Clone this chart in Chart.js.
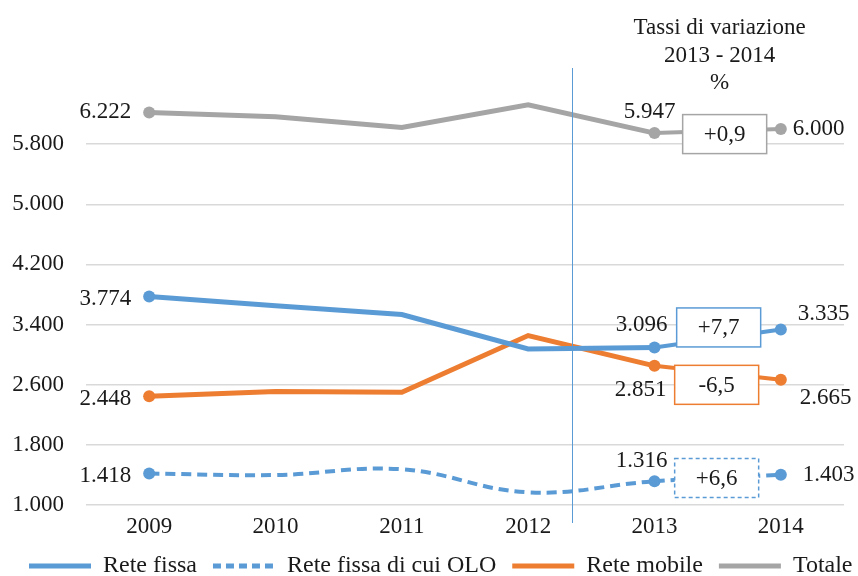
<!DOCTYPE html>
<html><head><meta charset="utf-8">
<script src="https://cdn.jsdelivr.net/npm/chart.js@4"></script>
<style>html,body{margin:0;padding:0;background:#fff}#wrap{width:858px;height:576px}</style>
</head><body><div id="wrap"><canvas id="c" width="858" height="576"></canvas></div>
<script>
// ---- data ----
const years = ['2009', '2010', '2011', '2012', '2013', '2014'];
const reteFissa = [3774, 3650, 3533, 3076, 3096, 3335];
const reteFissaOLO = [1418, 1399, 1475, 1169, 1316, 1403];
const reteMobile = [2448, 2511, 2499, 3254, 2851, 2665];
const totale = [6222, 6163, 6021, 6323, 5947, 6000];
const yTicks = [1000, 1800, 2600, 3400, 4200, 5000, 5800];
const seriesNames = ['Rete fissa', 'Rete fissa di cui OLO', 'Rete mobile', 'Totale'];
const panelTitle = ['Tassi di variazione', '2013 - 2014', '%'];
const labeledPoints = [0, 4, 5];
const rateFrom = 4, rateTo = 5;

// ---- styles ----
const FONT = 'Liberation Serif';
const TXT = '#1a1a1a';
const BLUE = '#5B9BD5', ORANGE = '#ED7D31', GRAY = '#A5A5A5';
// per-dataset label offsets [dx, dy, align] for labeled points, and rate box offsets
const labelPos = [
  [[-18, 2, 'right'], [-13, -22, 'center'], [17, -16, 'left']],
  [[-18, 2, 'right'], [-13, -20, 'center'], [22, 0, 'left']],
  [[-18, 3, 'right'], [-14, 24, 'center'], [19, 18, 'left']],
  [[-18, 0, 'right'], [-5, -21, 'center'], [12, 0, 'left']]
];
const boxOff = [[1, -11, false], [-1, 0, true], [-1, 12, false], [7, 3, false]];

function fmt(v) { return Math.round(v).toString().replace(/\B(?=(\d{3})+(?!\d))/g, '.'); }
function fmtRate(a, b) {
  const r = (b - a) / a * 100;
  return (r >= 0 ? '+' : '-') + Math.abs(r).toFixed(1).replace('.', ',');
}

const radiusFn = ctx => labeledPoints.includes(ctx.dataIndex) ? 6 : 0;
const segW = ctx => ctx.p0DataIndex === rateFrom ? 4 : undefined;

function ds(label, data, color, extra) {
  return Object.assign({
    label, data, borderColor: color, backgroundColor: color,
    borderWidth: 5, pointRadius: radiusFn, pointHoverRadius: radiusFn,
    pointBorderWidth: 0, pointBackgroundColor: color, tension: 0,
    borderCapStyle: 'butt', borderJoinStyle: 'miter',
    segment: { borderWidth: segW }
  }, extra || {});
}

const overlay = {
  id: 'overlay',
  afterLayout(chart) {
    if (chart.legend) { chart.legend.left += 13; chart.legend.right += 13; }
  },
  afterDatasetsDraw(chart) {
    const ctx = chart.ctx, xs = chart.scales.x, area = chart.chartArea;
    ctx.save();
    // vertical separator
    const vx = Math.round(xs.getPixelForValue(3.35)) + 0.5;
    ctx.strokeStyle = BLUE; ctx.lineWidth = 1;
    ctx.beginPath(); ctx.moveTo(vx, area.top - 16); ctx.lineTo(vx, area.bottom + 18); ctx.stroke();

    ctx.font = '23px "' + FONT + '"';
    ctx.textBaseline = 'middle';
    chart.data.datasets.forEach((d, i) => {
      const meta = chart.getDatasetMeta(i);
      // rate box
      const p0 = meta.data[rateFrom], p1 = meta.data[rateTo];
      const cx = (p0.x + p1.x) / 2 + boxOff[i][0], cy = (p0.y + p1.y) / 2 + boxOff[i][1];
      const w = 84, h = 39;
      ctx.fillStyle = '#fff';
      ctx.fillRect(cx - w / 2, cy - h / 2, w, h);
      ctx.strokeStyle = d.borderColor; ctx.lineWidth = 1.5;
      ctx.setLineDash(boxOff[i][2] ? [4, 3] : []);
      ctx.strokeRect(cx - w / 2, cy - h / 2, w, h);
      ctx.setLineDash([]);
      ctx.fillStyle = TXT; ctx.textAlign = 'center';
      ctx.fillText(fmtRate(d.data[rateFrom], d.data[rateTo]), cx, cy + 1);
      // value labels
      labeledPoints.forEach((idx, k) => {
        const p = meta.data[idx], lp = labelPos[i][k];
        ctx.textAlign = lp[2];
        ctx.fillText(fmt(d.data[idx]), p.x + lp[0], p.y + lp[1]);
      });
    });
    // panel title
    const tx = (xs.getPixelForValue(rateFrom) + xs.getPixelForValue(rateTo)) / 2 + 2;
    ctx.textAlign = 'center';
    panelTitle.forEach((t, k) => ctx.fillText(t, tx, 28 + k * 27.5));
    ctx.restore();
  }
};

new Chart(document.getElementById('c'), {
  type: 'line',
  data: {
    labels: years,
    datasets: [
      ds(seriesNames[0], reteFissa, BLUE),
      ds(seriesNames[1], reteFissaOLO, BLUE, { borderWidth: 4, borderDash: [10, 6], tension: 0.4 }),
      ds(seriesNames[2], reteMobile, ORANGE),
      ds(seriesNames[3], totale, GRAY)
    ]
  },
  options: {
    responsive: false, animation: false, devicePixelRatio: 1,
    layout: { padding: { top: 84, left: 0, right: 0, bottom: -12 } },
    scales: {
      x: {
        offset: true,
        grid: { display: false, drawTicks: false },
        border: { display: false },
        ticks: { color: TXT, font: { family: FONT, size: 23 }, padding: 8 },
        afterFit: s => { s.height = 33; }
      },
      y: {
        min: 1000, max: 6600,
        afterBuildTicks: s => { s.ticks = yTicks.map(v => ({ value: v })); },
        afterFit: s => { s.width = 86; },
        grid: { color: '#d9d9d9', lineWidth: 1.5, drawTicks: false },
        border: { display: false },
        ticks: { color: TXT, font: { family: FONT, size: 23 }, padding: 22, callback: v => fmt(v) }
      },
      yr: {
        type: 'linear', position: 'right', display: true,
        grid: { display: false, drawTicks: false }, border: { display: false },
        ticks: { display: false },
        afterFit: s => { s.width = 14; }
      }
    },
    plugins: {
      legend: {
        position: 'bottom', align: 'start',
        labels: {
          usePointStyle: true, pointStyle: 'line', pointStyleWidth: 62,
          color: TXT, font: { family: FONT, size: 24 }, padding: 16,
          generateLabels: chart => Chart.defaults.plugins.legend.labels.generateLabels(chart).map((it, i) => {
            const d = chart.data.datasets[i];
            it.lineWidth = 5;
            it.strokeStyle = d.borderColor;
            it.fillStyle = d.borderColor;
            it.lineDash = d.borderDash ? [8, 5] : [];
            it.lineCap = 'butt';
            it.pointStyle = 'line';
            return it;
          })
        }
      },
      tooltip: { enabled: false }
    }
  },
  plugins: [overlay]
});
</script>
</body></html>
